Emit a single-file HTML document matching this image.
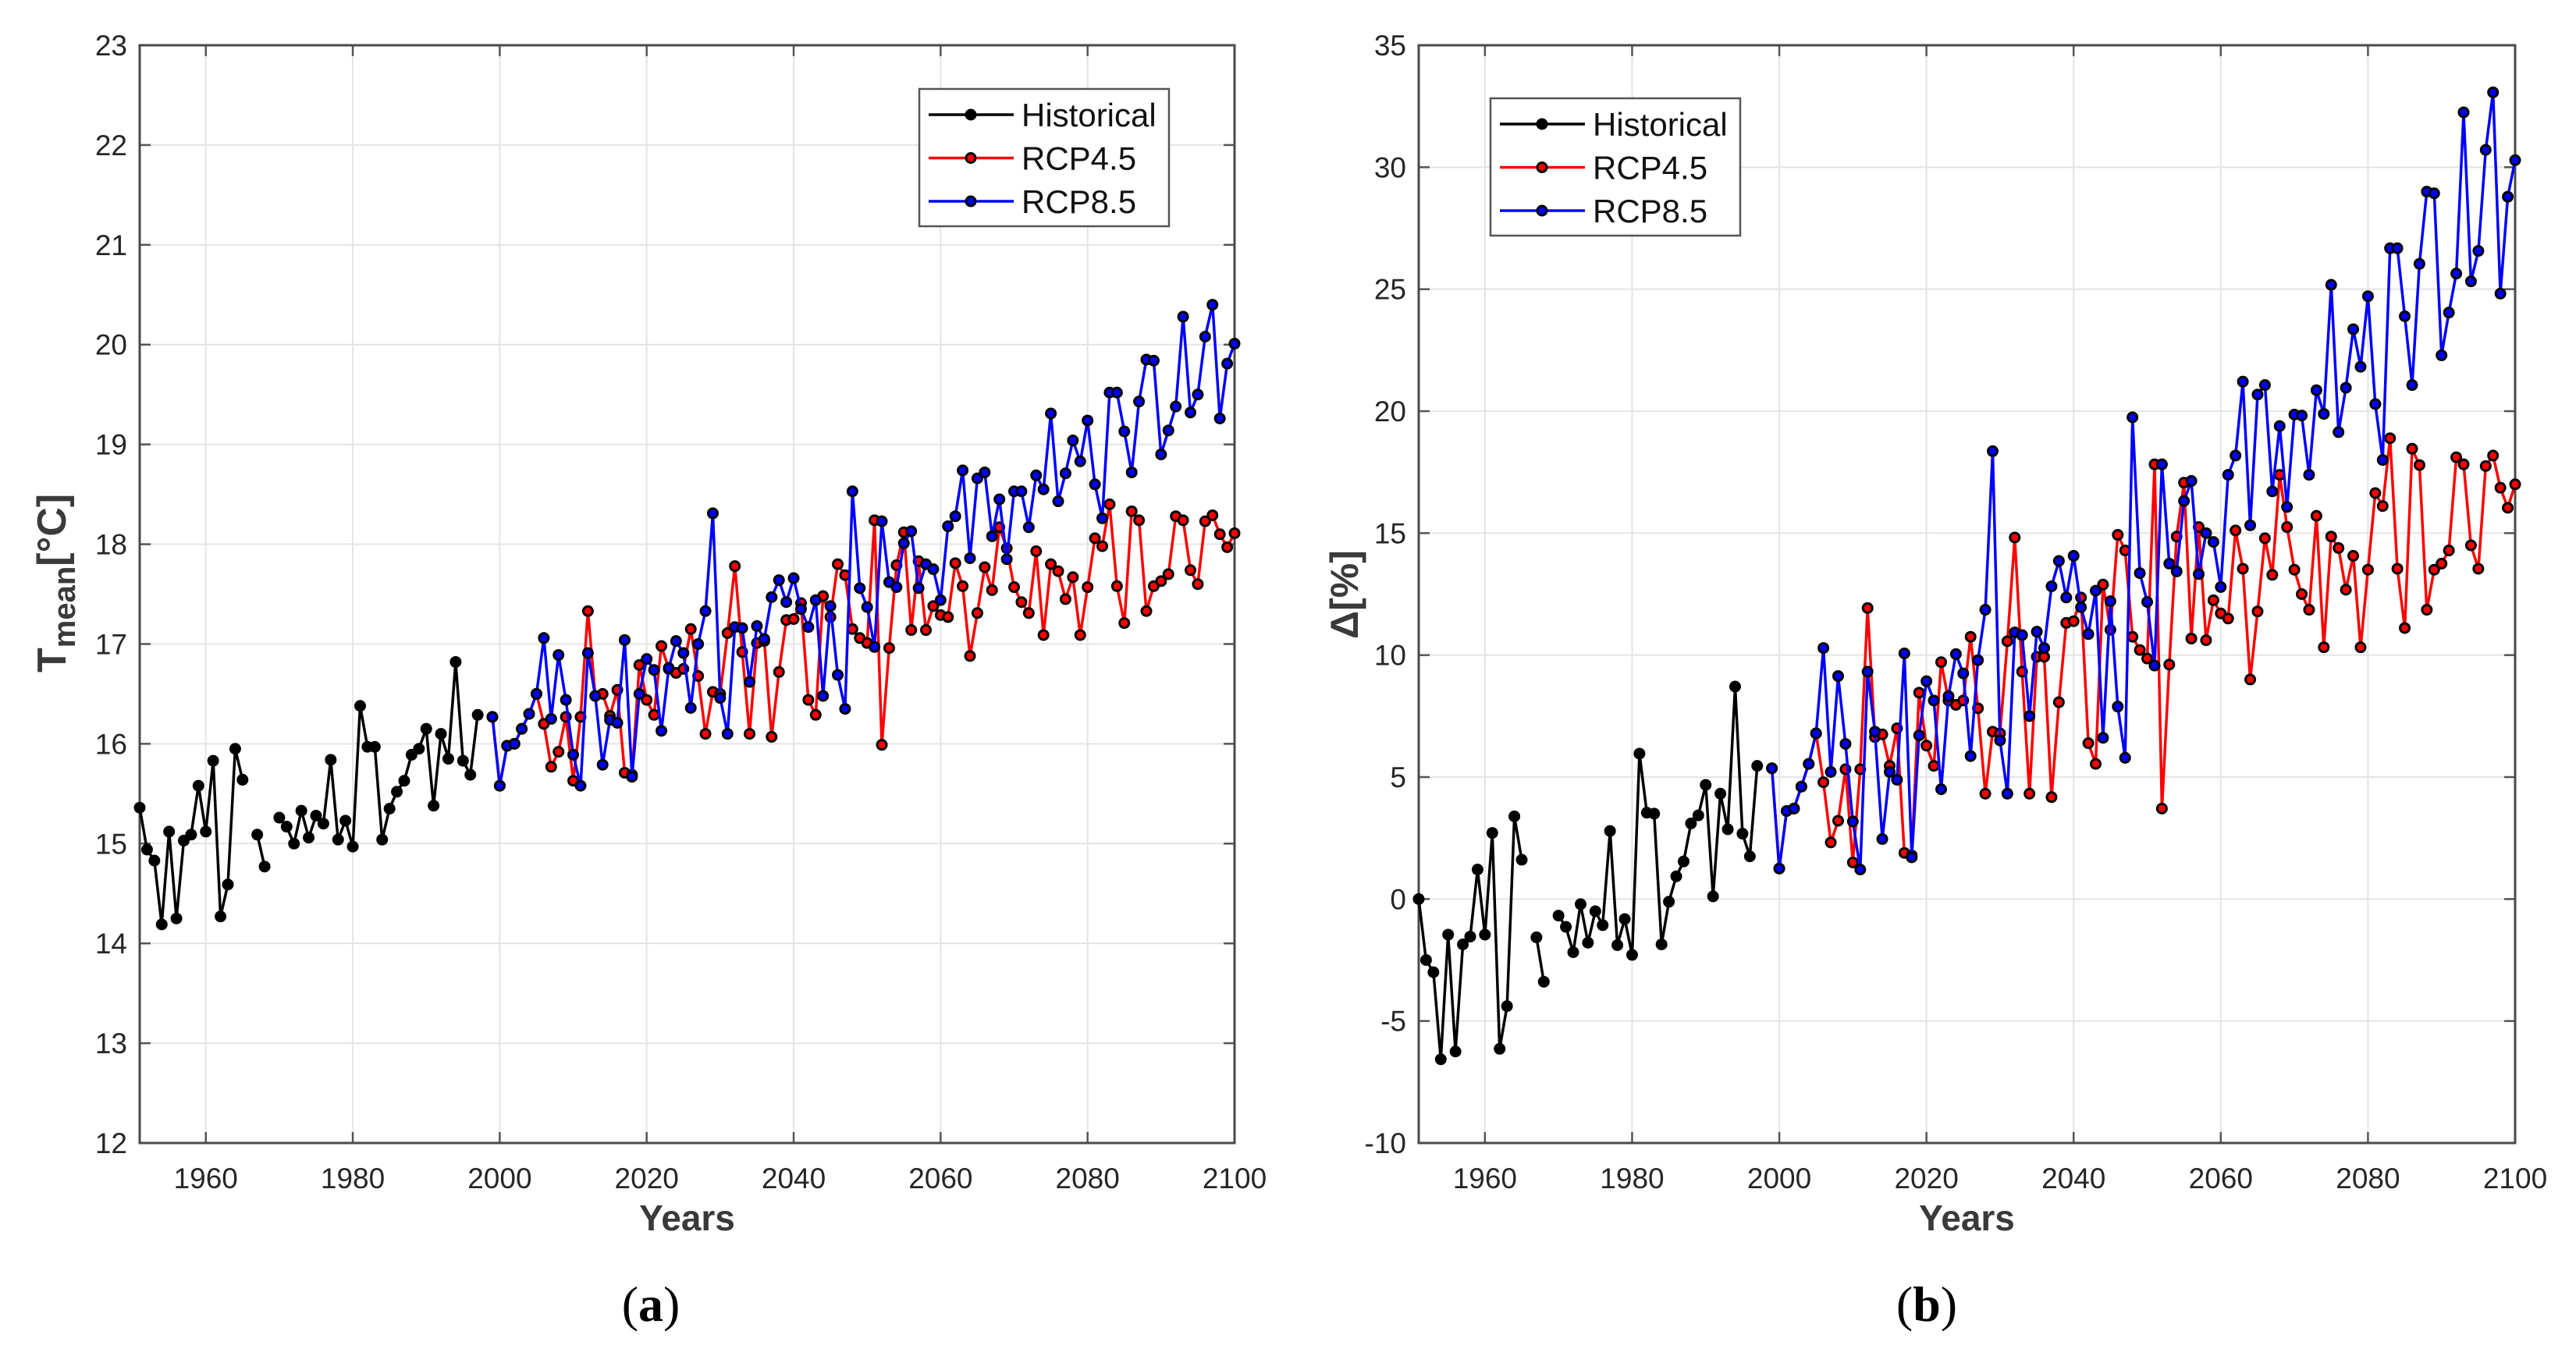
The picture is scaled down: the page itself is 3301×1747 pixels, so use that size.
<!DOCTYPE html>
<html><head><meta charset="utf-8"><style>
html,body{margin:0;padding:0;background:#fff;}
svg{display:block;font-family:"Liberation Sans",Arial,sans-serif;}
</style></head><body>
<svg id="chart" width="3301" height="1747" viewBox="0 0 3301 1747" xmlns="http://www.w3.org/2000/svg"></svg>
<script>
// ---------- data ----------
const histYears = [1951,1952,1953,1954,1955,1956,1957,1958,1959,1960,1961,1962,1963,1964,1965,1966,1967,1968,1969,1970,1971,1972,1973,1974,1975,1976,1977,1978,1979,1980,1981,1982,1983,1984,1985,1986,1987,1988,1989,1990,1991,1992,1993,1994,1995,1996,1997];
const histT = [15.36,14.94,14.83,14.19,15.12,14.25,15.03,15.09,15.58,15.12,15.83,14.27,14.59,15.95,15.64,null,15.09,14.77,null,15.26,15.17,15.0,15.33,15.06,15.28,15.2,15.84,15.04,15.23,14.97,16.38,15.97,15.97,15.04,15.35,15.52,15.63,15.89,15.95,16.15,15.38,16.1,15.85,16.82,15.83,15.69,16.29];
const histP = [0,-2.5,-3.0,-6.57,-1.46,-6.25,-1.86,-1.54,1.21,-1.46,2.71,-6.14,-4.39,3.39,1.61,null,-1.57,-3.39,null,-0.68,-1.14,-2.18,-0.21,-1.79,-0.5,-1.07,2.79,-1.89,-0.82,-2.29,5.96,3.54,3.5,-1.86,-0.11,0.93,1.54,3.1,3.43,4.68,0.11,4.32,2.86,8.71,2.68,1.75,5.46];
const projYears = [1999,2000,2001,2002,2003,2004,2005,2006,2007,2008,2009,2010,2011,2012,2013,2014,2015,2016,2017,2018,2019,2020,2021,2022,2023,2024,2025,2026,2027,2028,2029,2030,2031,2032,2033,2034,2035,2036,2037,2038,2039,2040,2041,2042,2043,2044,2045,2046,2047,2048,2049,2050,2051,2052,2053,2054,2055,2056,2057,2058,2059,2060,2061,2062,2063,2064,2065,2066,2067,2068,2069,2070,2071,2072,2073,2074,2075,2076,2077,2078,2079,2080,2081,2082,2083,2084,2085,2086,2087,2088,2089,2090,2091,2092,2093,2094,2095,2096,2097,2098,2099,2100];
const rcp85T = [16.27,15.58,15.98,16.0,16.15,16.3,16.5,17.06,16.25,16.89,16.44,15.89,15.58,16.91,16.48,15.79,16.24,16.21,17.04,15.67,16.5,16.85,16.74,16.13,16.76,17.03,16.91,16.36,17.0,17.33,18.31,16.46,16.1,17.17,17.16,16.62,17.18,17.05,17.47,17.64,17.42,17.66,17.35,17.17,17.44,16.48,17.38,16.69,16.35,18.53,17.56,17.37,16.97,18.23,17.62,17.57,18.01,18.13,17.56,17.8,17.75,17.44,18.18,18.28,18.74,17.86,18.66,18.72,18.08,18.45,17.85,18.53,18.53,18.17,18.69,18.55,19.31,18.43,18.71,19.04,18.83,19.24,18.6,18.26,19.52,19.52,19.13,18.72,19.43,19.85,19.84,18.9,19.14,19.38,20.28,19.32,19.5,20.08,20.4,19.26,19.81,20.01];
const rcp45T = [16.27,15.58,15.98,16.0,16.15,16.3,16.5,16.2,15.77,15.92,16.27,15.63,16.27,17.33,16.48,16.5,16.28,16.54,15.71,15.69,16.79,16.44,16.29,16.98,16.75,16.71,16.75,17.15,16.68,16.1,16.52,16.5,17.11,17.78,16.92,16.1,17.01,17.03,16.07,16.72,17.24,17.25,17.41,16.44,16.29,17.48,17.27,17.8,17.69,17.15,17.06,17.01,18.24,15.99,16.96,17.79,18.12,17.14,17.83,17.14,17.38,17.29,17.27,17.81,17.58,16.88,17.31,17.77,17.54,18.17,17.96,17.57,17.42,17.31,17.93,17.09,17.8,17.73,17.45,17.67,17.09,17.57,18.06,17.98,18.4,17.58,17.21,18.33,18.24,17.33,17.58,17.63,17.7,18.28,18.24,17.74,17.6,18.23,18.29,18.1,17.97,18.11];
const rcp85P = [5.36,1.25,3.61,3.71,4.61,5.54,6.79,10.29,5.21,9.14,6.36,3.18,1.21,9.32,6.86,2.46,5.21,4.89,10.07,1.71,6.71,8.93,8.14,4.5,8.32,10.04,9.25,5.86,9.79,11.86,18.36,6.5,4.32,10.93,10.82,7.5,10.96,10.29,12.82,13.86,12.36,14.07,11.96,10.86,12.64,6.61,12.21,7.89,5.79,19.75,13.36,12.18,9.57,17.82,13.75,13.43,16.32,17.14,13.32,15.0,14.64,12.79,17.39,18.18,21.21,15.32,20.68,21.07,16.71,19.39,16.07,19.86,19.82,17.39,20.86,19.89,25.18,19.14,20.96,23.36,21.82,24.71,20.29,18.0,26.68,26.68,23.89,21.07,26.04,29.0,28.93,22.29,24.04,25.64,32.25,25.32,26.57,30.71,33.07,24.82,28.79,30.29];
const rcp45P = [5.36,1.25,3.61,3.71,4.61,5.54,6.79,4.79,2.32,3.21,5.32,1.5,5.32,11.93,6.64,6.75,5.46,7.0,1.89,1.79,8.46,6.29,5.46,9.71,8.14,7.96,8.14,10.75,7.82,4.32,6.86,6.79,10.57,14.82,9.32,4.32,9.93,9.93,4.18,8.07,11.32,11.39,12.36,6.39,5.54,12.89,11.04,14.93,14.29,10.75,10.21,9.86,17.82,3.71,9.61,14.86,17.07,10.68,15.25,10.61,12.25,11.71,11.5,15.11,13.54,9.0,11.79,14.79,13.29,17.39,15.25,13.5,12.5,11.86,15.71,10.32,14.86,14.39,12.68,14.07,10.32,13.5,16.64,16.11,18.89,13.54,11.11,18.46,17.79,11.86,13.5,13.75,14.29,18.11,17.82,14.5,13.54,17.75,18.18,16.86,16.04,17.0];
const xTicks = [1960,1980,2000,2020,2040,2060,2080,2100];
const yTicksA = [12,13,14,15,16,17,18,19,20,21,22,23];
const yTicksB = [-10,-5,0,5,10,15,20,25,30,35];
const legendLabels = ["Historical","RCP4.5","RCP8.5"];

const NS = "http://www.w3.org/2000/svg";
const svg = document.getElementById('chart');
function mk(tag, attrs, parent){const e=document.createElementNS(NS,tag);for(const k in attrs)e.setAttribute(k,attrs[k]);(parent||svg).appendChild(e);return e;}

function panel(cfg){
  const g = mk('g',{});
  
  
  const L=cfg.left,R=cfg.right,T=58,B=1465;
  const x = v => L + (v-1951)/(2100-1951)*(R-L);
  const y = v => B - (v-cfg.ymin)/(cfg.ymax-cfg.ymin)*(B-T);
  xTicks.forEach(t=>{ if(t<2100){ const l=mk('line',{x1:x(t),x2:x(t),y1:T,y2:B,stroke:'#e4e4e4','stroke-width':2},g);
      }});
  cfg.yticks.forEach(t=>{ const l=mk('line',{x1:L,x2:R,y1:y(t),y2:y(t),stroke:'#e4e4e4','stroke-width':2},g);
      });
  xTicks.forEach(t=>{
    mk('line',{x1:x(t),x2:x(t),y1:B,y2:B-14,stroke:'#555','stroke-width':2.5},g);
    mk('line',{x1:x(t),x2:x(t),y1:T,y2:T+14,stroke:'#555','stroke-width':2.5},g);
    const tx=mk('text',{x:x(t),y:B+58,'text-anchor':'middle','font-size':37,fill:'#262626'},g);
    tx.textContent=t;
     
  });
  cfg.yticks.forEach(t=>{
    mk('line',{x1:L,x2:L+14,y1:y(t),y2:y(t),stroke:'#555','stroke-width':2.5},g);
    mk('line',{x1:R,x2:R-14,y1:y(t),y2:y(t),stroke:'#555','stroke-width':2.5},g);
    const tx=mk('text',{x:L-16,y:y(t)+13,'text-anchor':'end','font-size':37,fill:'#262626'},g);
    tx.textContent=t;
     
  });
  const box=mk('rect',{x:L,y:T,width:R-L,height:B-T,fill:'none',stroke:'#4a4a4a','stroke-width':3},g);
   
  function series(years, vals, color, fill, name){
    const sg=mk('g',{},g);
    
    
    let segs=[],cur=[];
    years.forEach((yr,i)=>{ if(vals[i]==null){ if(cur.length)segs.push(cur); cur=[]; } else cur.push(x(yr).toFixed(1)+','+y(vals[i]).toFixed(1)); });
    if(cur.length)segs.push(cur);
    segs.forEach(s=>{ const p=mk('polyline',{points:s.join(' '),fill:'none',stroke:color,'stroke-width':3.5,'stroke-linejoin':'round'},sg);
        });
    years.forEach((yr,i)=>{ if(vals[i]==null)return;
      const c=mk('circle',{cx:x(yr),cy:y(vals[i]),r:6,fill:fill,stroke:'#000','stroke-width':3},sg);
        });
  }
  series(histYears, cfg.hist, '#000', '#000', 'historical-series');
  series(projYears, cfg.r45, '#ff0000', '#ff0000', 'rcp45-series');
  series(projYears, cfg.r85, '#0000ff', '#0000ff', 'rcp85-series');
  const lg=mk('g',{},g);
   
  const lx=cfg.legX, ly=cfg.legY;
  mk('rect',{x:lx,y:ly,width:320,height:176,fill:'#fff',stroke:'#555','stroke-width':2.5},lg);
  const cols=[['#000','#000'],['#ff0000','#ff0000'],['#0000ff','#0000ff']];
  legendLabels.forEach((lab,i)=>{
    const ey=ly+33+i*55.5;
    const eg=mk('g',{},lg);
     
    mk('line',{x1:lx+12,x2:lx+121,y1:ey,y2:ey,stroke:cols[i][0],'stroke-width':3.5},eg);
    mk('circle',{cx:lx+66,cy:ey,r:6,fill:cols[i][1],stroke:'#000','stroke-width':3},eg);
    const t=mk('text',{x:lx+131,y:ey+15,'font-size':42,fill:'#111'},eg);
    t.textContent=lab;
  });
  const xt=mk('text',{x:(L+R)/2,y:1577,'text-anchor':'middle','font-size':46,'font-weight':'bold',fill:'#3a3a3a'},g);
  xt.textContent='Years';
   
  const cp=mk('text',{x:cfg.capX,y:1693,'text-anchor':'middle','font-size':64,'font-family':'"Liberation Serif",serif',fill:'#000'},g);
  cp.innerHTML='(<tspan font-weight="bold">'+cfg.cap+'</tspan>)';
   
  return g;
}

panel({name:'panel-a-temperature',left:179,right:1582,ymin:12,ymax:23,yticks:yTicksA,hist:histT,r45:rcp45T,r85:rcp85T,legX:1178,legY:114,cap:'a',capX:834});
panel({name:'panel-b-precipitation',left:1818,right:3223,ymin:-10,ymax:35,yticks:yTicksB,hist:histP,r45:rcp45P,r85:rcp85P,legX:1910,legY:126,cap:'b',capX:2469});

const ya=mk('text',{transform:'translate(84,862) rotate(-90)','font-size':52,'font-weight':'bold',fill:'#3a3a3a'});
ya.innerHTML='T<tspan font-size="40" dy="12">mean</tspan><tspan dy="-12">[°C]</tspan>';
 
const yb=mk('text',{transform:'translate(1740,762) rotate(-90)','text-anchor':'middle','font-size':50,'font-weight':'bold',fill:'#3a3a3a'});
yb.textContent='Δ[%]';
 
</script>
</body></html>
